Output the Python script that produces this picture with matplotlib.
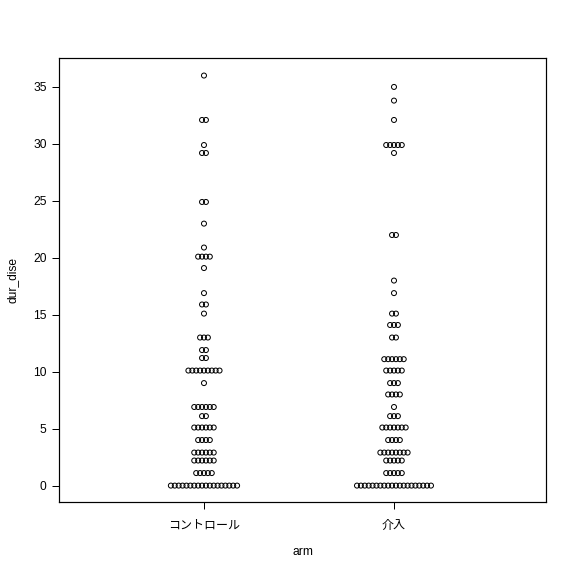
import numpy as np
import matplotlib
matplotlib.use("Agg")
import matplotlib.pyplot as plt

plt.rcParams['font.family'] = ['Liberation Sans', 'Noto Sans CJK JP', 'DejaVu Sans']

arms = ['コントロール', '介入']

# distinct values of dur_dise and how many points sit at each
ctrl_vals = [36.0, 32.1, 29.9, 29.2, 24.9, 23.0, 20.9, 20.1, 19.1, 16.9, 15.9, 15.1,
             13.0, 11.9, 11.2, 10.1, 9.0, 6.9, 6.1, 5.1, 4.0, 2.9, 2.2, 1.1, 0.0]
ctrl_cnt = [1, 2, 1, 2, 2, 1, 1, 4, 1, 1, 2, 1,
            3, 2, 2, 9, 1, 6, 2, 6, 4, 6, 6, 5, 18]

intv_vals = [35.0, 33.8, 32.1, 29.9, 29.2, 22.0, 18.0, 16.9, 15.1, 14.1, 13.0, 11.1,
             10.1, 9.0, 8.0, 6.9, 6.1, 5.1, 4.0, 2.9, 2.2, 1.1, 0.0]
intv_cnt = [1, 1, 1, 5, 1, 2, 1, 1, 2, 3, 2, 6,
            5, 3, 4, 1, 3, 7, 4, 8, 5, 5, 20]

groups = [(ctrl_vals, ctrl_cnt), (intv_vals, intv_cnt)]

fig = plt.figure(figsize=(6, 6), dpi=96)
W = H = 576
ax = fig.add_axes([59 / W, 1 - 502 / H, (546 - 59) / W, (502 - 58) / H])

spacing = 0.0205  # horizontal gap between neighbours in a row (data units)
for pos, (vals, cnts) in enumerate(groups, start=1):
    xs, ys = [], []
    for v, n in zip(vals, cnts):
        offs = (np.arange(n) - (n - 1) / 2) * spacing
        xs.extend(pos + offs)
        ys.extend([v] * n)
    ax.scatter(xs, ys, s=14, facecolors='none', edgecolors='black', linewidths=0.75)

ax.set_xlim(0.237, 2.80)
ax.set_ylim(-1.44, 37.54)
ax.set_yticks(range(0, 36, 5))
ax.set_xticks([1, 2])
ax.set_xticklabels(arms)
ax.tick_params(direction='out', length=5.25, width=0.75, labelsize=9, colors='black')
ax.tick_params(axis='x', pad=8)
ax.tick_params(axis='y', pad=4)
for sp in ax.spines.values():
    sp.set_linewidth(0.9)
    sp.set_color('black')

fig.text(13 / W, 1 - 280 / H, 'dur_dise', rotation=90, ha='center', va='center', fontsize=9)
fig.text(302.5 / W, 1 - 552 / H, 'arm', ha='center', va='center', fontsize=9)

fig.savefig('out.png', dpi=96, facecolor='white')
